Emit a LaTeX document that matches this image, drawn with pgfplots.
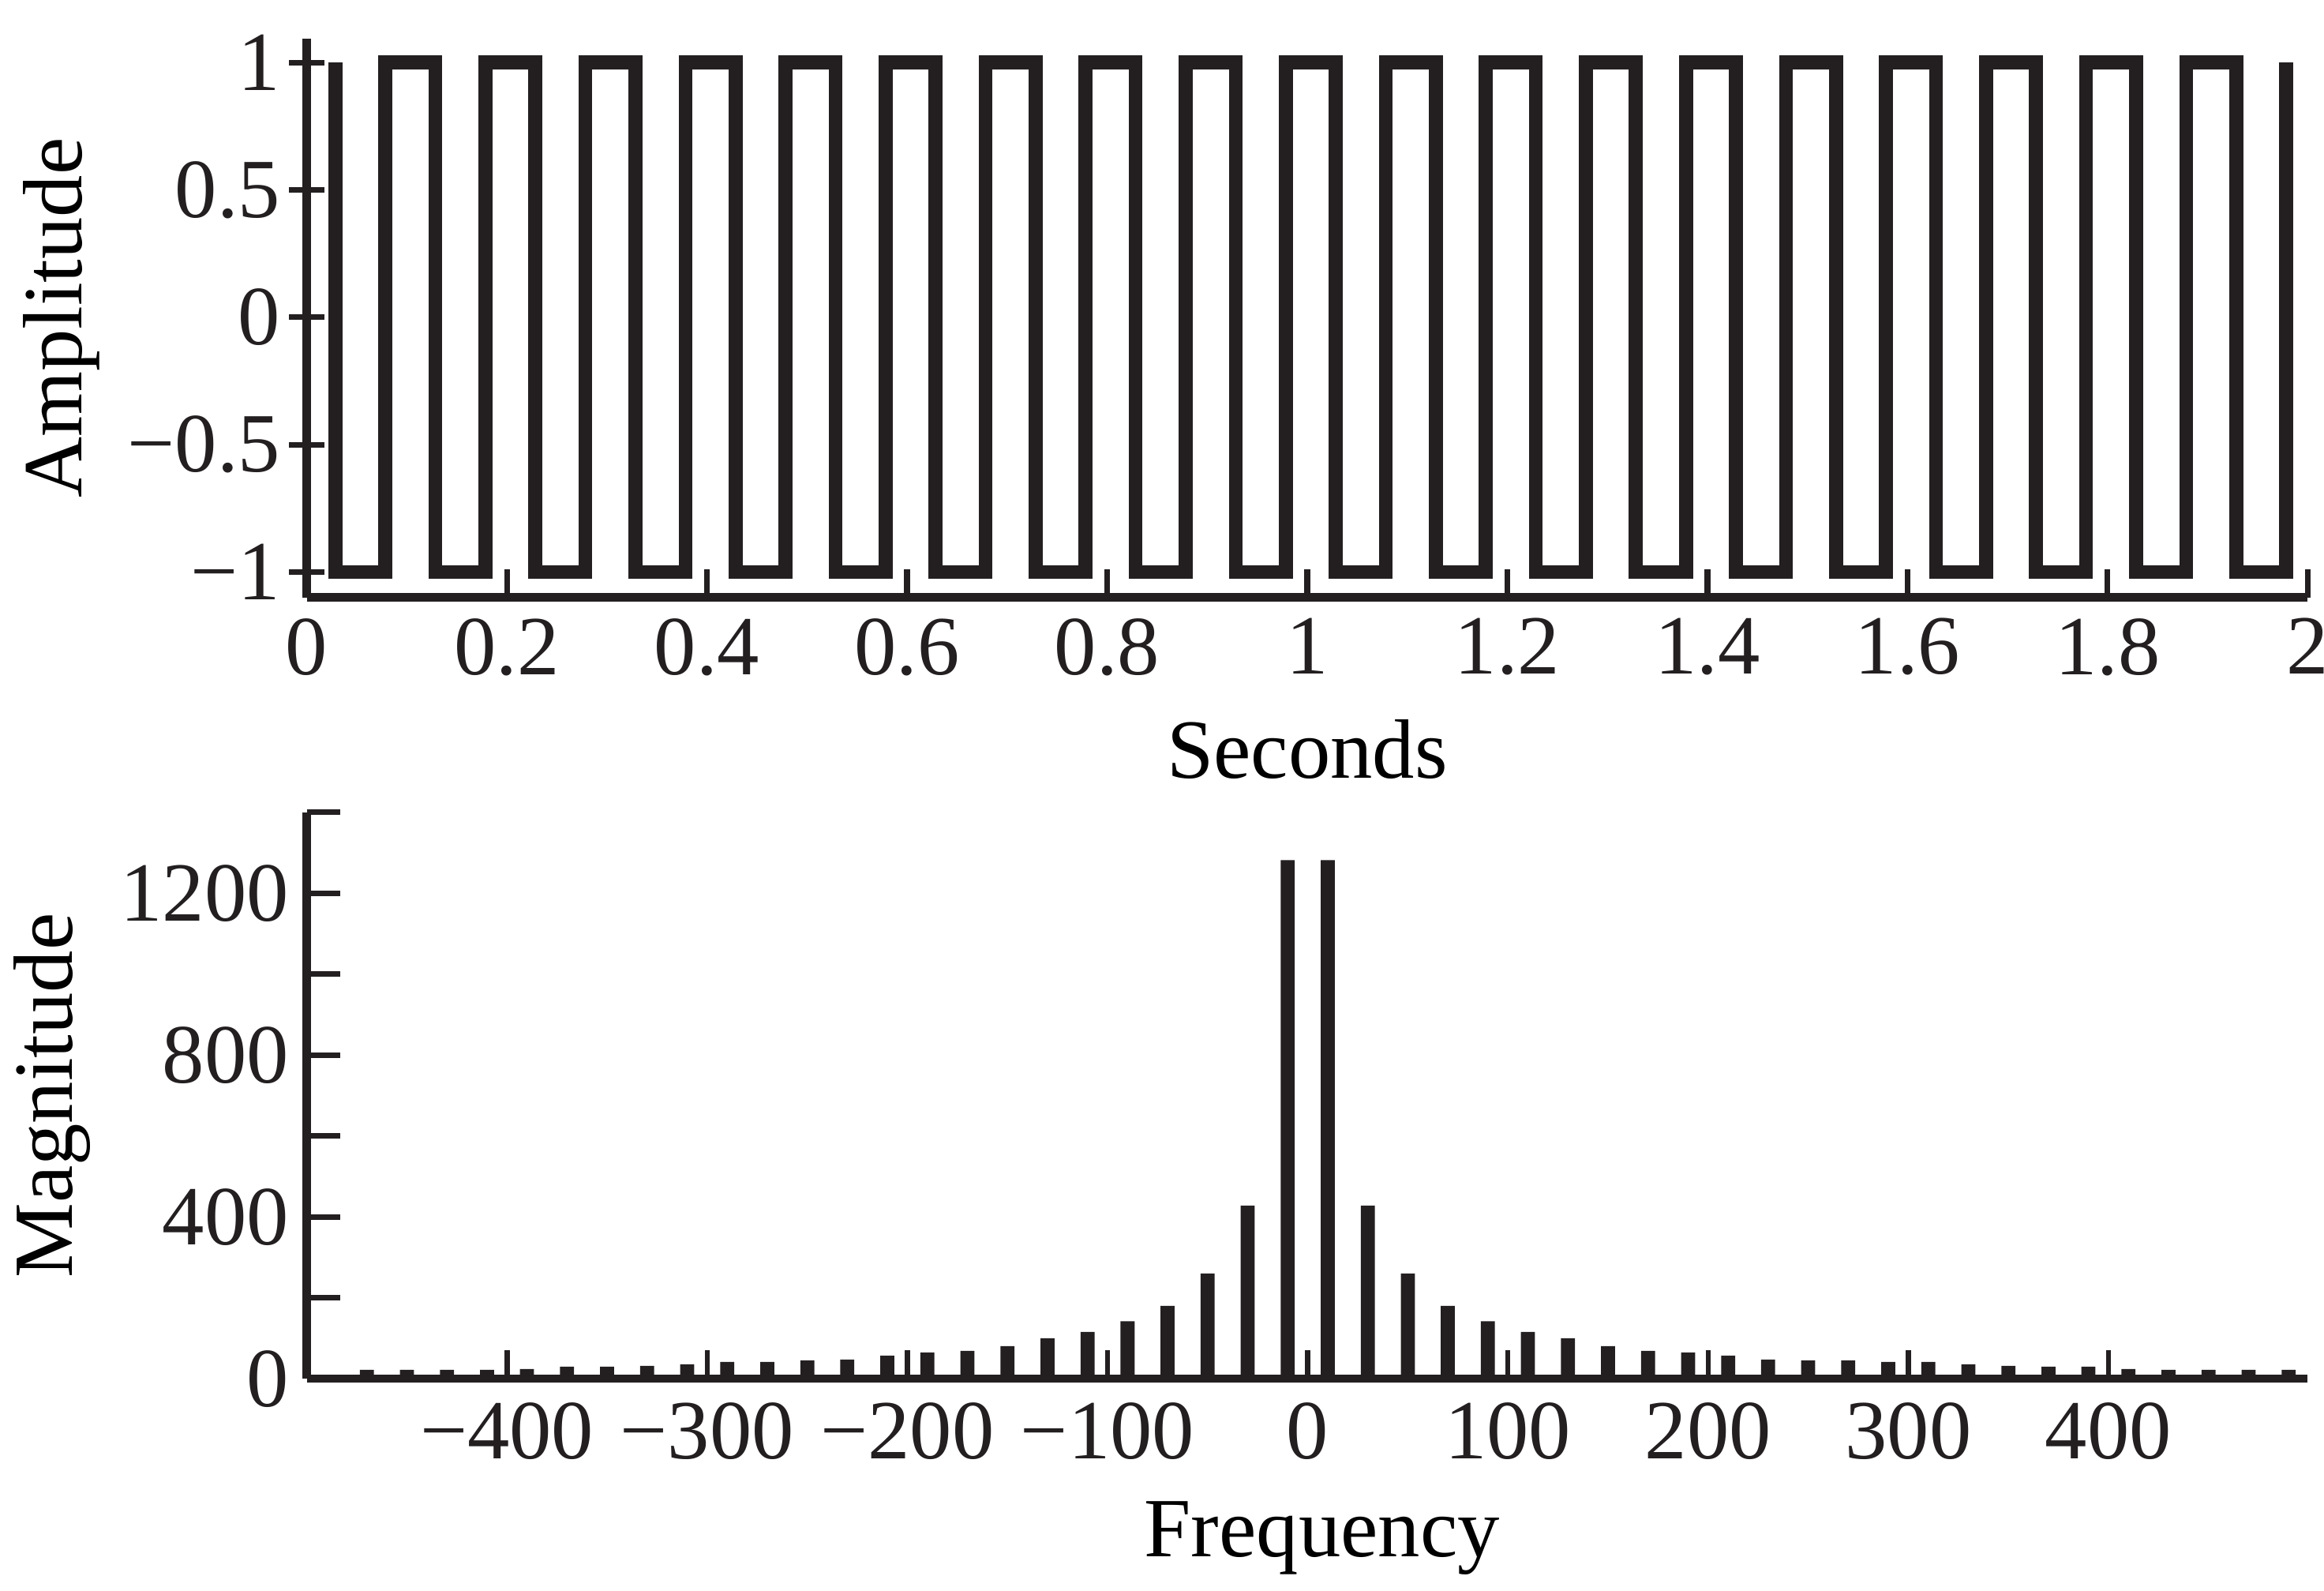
\documentclass[border=0pt]{standalone}
\usepackage{fontspec}
\setmainfont{Liberation Serif}
\usepackage{pgfplots}
\pgfplotsset{compat=1.18}
\definecolor{ink}{RGB}{35,31,32}

\begin{document}
\begin{tikzpicture}[font=\fontsize{14.2}{17}\selectfont]
\path[use as bounding box] (0,0) rectangle (392pt,268.2pt);
\pgfplotsset{
  every axis/.append style={
    scale only axis, width=337.5pt, anchor=south west,
    axis lines=left, axis line style={-, line width=1.4pt, ink},
    every tick/.style={ink, line width=0.95pt},
    tick label style={ink}, label style={ink},
    clip=false,
  },
}
% time signal
\begin{axis}[
  at={(51.75pt,167.45pt)}, height=94.25pt,
  xmin=0, xmax=2, ymin=-1.1, ymax=1.094,
  xtick={0,0.2,0.4,0.6,0.8,1,1.2,1.4,1.6,1.8,2},
  xticklabels={0,0.2,0.4,0.6,0.8,1,1.2,1.4,1.6,1.8,2},
  ytick={-1,-0.5,0,0.5,1},
  yticklabels={−1,−0.5,0,0.5,1},
  xtick align=inside, ytick align=center,
  xtick style={/pgfplots/major tick length=4.7pt},
  ytick style={/pgfplots/major tick length=5.9pt},
  yticklabel style={xshift=1.2pt},
  xlabel={Seconds}, ylabel={Amplitude},
  every axis x label/.style={at={(axis description cs:0.5,0)},anchor=base,yshift=-30.5pt},
  every axis y label/.style={at={(axis description cs:-0.1126,0.5)},rotate=90,anchor=base},
]
\addplot[const plot, line width=2.35pt, ink, line join=miter] coordinates {
(0.0285,1) (0.0285,-1) (0.0785,1) (0.1285,-1) (0.1785,1) (0.2285,-1)
(0.2785,1) (0.3285,-1) (0.3785,1) (0.4285,-1) (0.4785,1) (0.5285,-1)
(0.5785,1) (0.6285,-1) (0.6785,1) (0.7285,-1) (0.7785,1) (0.8285,-1)
(0.8785,1) (0.9285,-1) (0.9785,1) (1.0285,-1) (1.0785,1) (1.1285,-1)
(1.1785,1) (1.2285,-1) (1.2785,1) (1.3285,-1) (1.3785,1) (1.4285,-1)
(1.4785,1) (1.5285,-1) (1.5785,1) (1.6285,-1) (1.6785,1) (1.7285,-1)
(1.7785,1) (1.8285,-1) (1.8785,1) (1.9285,-1) (1.9785,1)
};
\end{axis}
% spectrum
\begin{axis}[
  at={(51.75pt,35.7pt)}, height=95.5pt,
  xmin=-500, xmax=499.5, ymin=0, ymax=1400,
  xtick={-400,-300,-200,-100,0,100,200,300,400},
  xticklabels={−400,−300,−200,−100,0,100,200,300,400},
  ytick={0,200,400,600,800,1000,1200,1400},
  yticklabels={0,,400,,800,,1200,},
  xtick align=inside, ytick align=inside,
  xtick style={/pgfplots/major tick length=4.8pt, line width=0.87pt},
  ytick style={/pgfplots/major tick length=5.7pt},
  xticklabel style={yshift=-0.5pt},
  yticklabel style={xshift=0.5pt},
  xlabel={Frequency}, ylabel={Magnitude},
  every axis x label/.style={at={(axis description cs:0.5,0)},anchor=base,yshift=-30pt,xshift=2.5pt},
  every axis y label/.style={at={(axis description cs:-0.1172,0.5)},rotate=90,anchor=base},
]
\addplot[ybar, bar width=7, bar shift=0pt, fill=ink, draw=none] coordinates {
(-470,22.1) (-450,22.1) (-430,22.1) (-410,22.1) (-390,24) (-370,29.9)
(-350,29.9) (-330,31.8) (-310,35.7) (-290,41.6) (-270,41.6) (-250,45.5)
(-230,47.4) (-210,57.1) (-190,64.9) (-170,68.8) (-150,80.5) (-130,100)
(-110,115.6) (-90,142) (-70,180) (-50,260) (-30,428) (-10,1282)
(10,1282) (30,428) (50,260) (70,180) (90,142) (110,115.6)
(130,100) (150,80.5) (170,68.8) (190,64.9) (210,57.1) (230,47.4)
(250,45.5) (270,45.5) (290,41.6) (310,41.6) (330,35.7) (350,31.8)
(370,29.9) (390,29.9) (410,24) (430,22.1) (450,22.1) (470,22.1) (490,22.1)
};
\end{axis}
\end{tikzpicture}
\end{document}
